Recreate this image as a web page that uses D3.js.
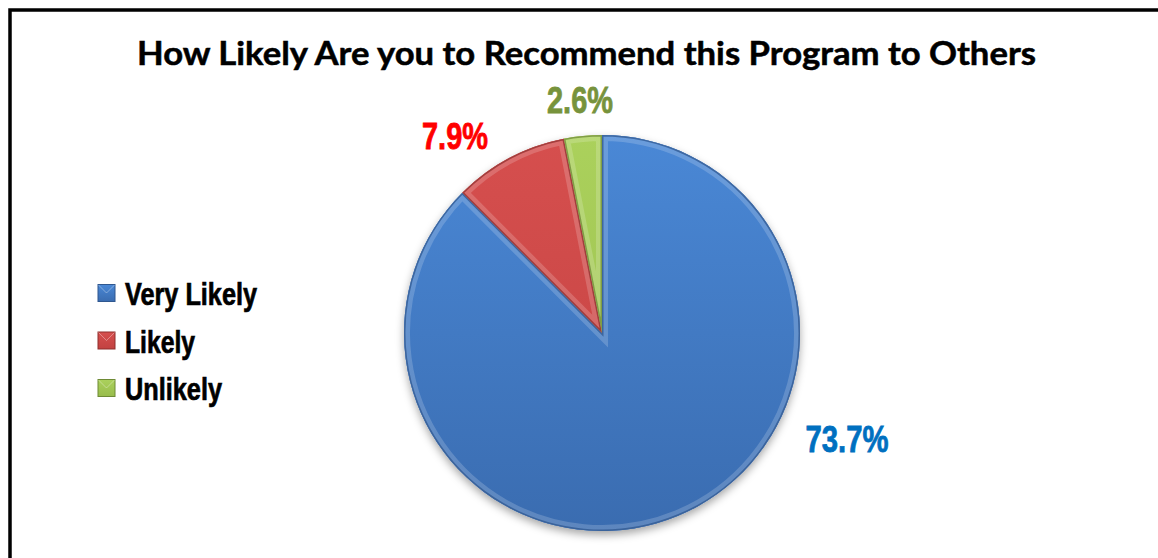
<!DOCTYPE html>
<html><head><meta charset="utf-8">
<script src="https://cdn.jsdelivr.net/npm/d3@7"></script>
<style>html,body{margin:0;padding:0;background:#fff;overflow:hidden}</style>
</head><body>
<svg id="chart" width="1158" height="558"></svg>
<script>
const categories = ["Very Likely", "Likely", "Unlikely"];
const values = [73.7, 7.9, 2.6];
const valueLabels = ["73.7%", "7.9%", "2.6%"];
const titleText = "How Likely Are you to Recommend this Program to Others";

const fills = [
  {light:"#4a88d6", mid:"#3a6cb0", dark:"#2f578f", label:"#0070c0"},
  {light:"#d64f4e", mid:"#c24241", dark:"#8f2f2d", label:"#ff0000"},
  {light:"#abd15c", mid:"#98bc4c", dark:"#6e8a35", label:"#77933c"}
];

const svg = d3.select("#chart");
const defs = svg.append("defs");

// frame
svg.append("rect").attr("x",10).attr("y",10).attr("width",1200).attr("height",600)
  .attr("fill","#fff").attr("stroke","#000").attr("stroke-width",3.5);

// title
svg.append("text").attr("x",586.5).attr("y",65).attr("text-anchor","middle")
  .attr("font-family","Lato, 'Open Sans', 'Noto Sans', sans-serif").attr("font-weight","bold")
  .attr("font-size",32).attr("fill","#000").attr("stroke","#000").attr("stroke-width",0.5)
  .text(titleText)
  .attr("textLength",899).attr("lengthAdjust","spacingAndGlyphs");

// gradients
fills.forEach((f,i)=>{
  const g = defs.append("linearGradient").attr("id","g"+i).attr("x1",0).attr("y1",0).attr("x2",0).attr("y2",1);
  g.append("stop").attr("offset","0%").attr("stop-color",f.light);
  g.append("stop").attr("offset","100%").attr("stop-color",f.mid);
  const gp = defs.append("linearGradient").attr("id","gp"+i).attr("gradientUnits","userSpaceOnUse")
    .attr("x1",0).attr("y1",-200).attr("x2",0).attr("y2",200);
  gp.append("stop").attr("offset","0%").attr("stop-color",f.light);
  gp.append("stop").attr("offset","100%").attr("stop-color",f.mid);
});
const sh = defs.append("filter").attr("id","shadow").attr("x","-20%").attr("y","-20%").attr("width","140%").attr("height","150%");
sh.append("feDropShadow").attr("dx",0).attr("dy",4).attr("stdDeviation",4).attr("flood-color","#000").attr("flood-opacity",0.35);

// pie
const cx = 602, cy = 333, r = 198;
const pie = d3.pie().sort(null).value(d=>d)(values);
const arc = d3.arc().innerRadius(0).outerRadius(r);
const gPie = svg.append("g").attr("transform",`translate(${cx},${cy})`);
gPie.append("g").attr("filter","url(#shadow)")
  .selectAll("path").data(pie).join("path").attr("d",arc).attr("fill",(d,i)=>fills[i].mid);

pie.forEach((d,i)=>{
  defs.append("clipPath").attr("id","clip"+i)
    .append("path").attr("d",arc(d)).attr("transform",`translate(${cx},${cy})`);
});
gPie.selectAll("path.slice").data(pie).join("path").attr("class","slice")
  .attr("d",arc).attr("fill",(d,i)=>`url(#gp${i})`);
// bevel
const bev = svg.append("g");
pie.forEach((d,i)=>{
  const gg = bev.append("g").attr("clip-path",`url(#clip${i})`);
  gg.append("path").attr("d",arc(d)).attr("transform",`translate(${cx},${cy})`)
    .attr("fill","none").attr("stroke","#fff").attr("stroke-opacity",0.18).attr("stroke-width",12);
  gg.append("path").attr("d",arc(d)).attr("transform",`translate(${cx},${cy})`)
    .attr("fill","none").attr("stroke",fills[i].dark).attr("stroke-opacity",0.75).attr("stroke-width",3);
});

// value labels
const labelPos = [[847,452],[455,149],[580,113]];
const labelW = [83,66,66];
svg.selectAll("text.val").data(pie).join("text").attr("class","val")
  .attr("x",(d,i)=>labelPos[i][0]).attr("y",(d,i)=>labelPos[i][1])
  .attr("text-anchor","middle")
  .attr("font-family","'Liberation Sans Narrow', 'Arial Narrow', 'Liberation Sans', sans-serif")
  .attr("font-weight","bold").attr("font-size",37)
  .attr("fill",(d,i)=>fills[i].label)
  .attr("stroke",(d,i)=>fills[i].label).attr("stroke-width",0.8)
  .attr("textLength",(d,i)=>labelW[i]).attr("lengthAdjust","spacingAndGlyphs")
  .text((d,i)=>valueLabels[i]);

// legend
const legW = [132,70,97];
const legY = d3.scalePoint().domain(categories).range([293,388]);
const leg = svg.selectAll("g.leg").data(categories).join("g").attr("class","leg")
  .attr("transform",d=>`translate(98,${legY(d)})`);
leg.append("rect").attr("x",0).attr("y",-8.5).attr("width",17).attr("height",17)
  .attr("fill",(d,i)=>`url(#g${i})`).attr("stroke",(d,i)=>fills[i].dark).attr("stroke-width",1);
leg.append("path").attr("d","M0.5,-8 L8.5,0 L16.5,-8").attr("fill","none")
  .attr("stroke","#fff").attr("stroke-opacity",0.35).attr("stroke-width",1);
leg.append("text").attr("x",27).attr("y",12)
  .attr("font-family","'Liberation Sans Narrow', 'Arial Narrow', 'Liberation Sans', sans-serif")
  .attr("font-weight","bold").attr("font-size",31).attr("fill","#000")
  .attr("stroke","#000").attr("stroke-width",0.7)
  .attr("textLength",(d,i)=>legW[i]).attr("lengthAdjust","spacingAndGlyphs")
  .text(d=>d);
</script>
</body></html>
